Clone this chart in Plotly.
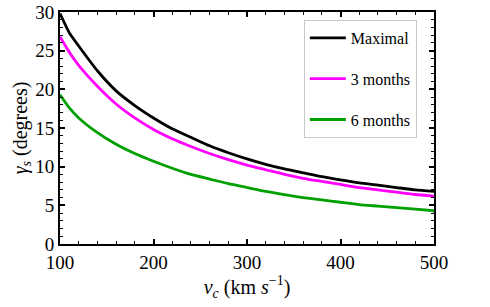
import plotly.graph_objects as go

v = [100, 110, 120, 140, 160, 180, 200, 220, 240, 260, 280, 300, 320, 340, 360, 380, 400, 420, 440, 460, 480, 500]
maximal = [29.8, 27.3, 25.6, 22.4, 19.8, 17.9, 16.3, 14.9, 13.8, 12.7, 11.8, 11.0, 10.3, 9.7, 9.2, 8.7, 8.3, 7.9, 7.6, 7.3, 7.0, 6.8]
three_months = [26.8, 24.8, 23.1, 20.4, 18.1, 16.3, 14.8, 13.6, 12.6, 11.7, 10.9, 10.2, 9.6, 9.0, 8.5, 8.1, 7.7, 7.3, 7.0, 6.7, 6.4, 6.2]
six_months = [19.3, 17.6, 16.3, 14.4, 12.9, 11.7, 10.7, 9.8, 9.0, 8.4, 7.8, 7.3, 6.8, 6.4, 6.0, 5.7, 5.4, 5.1, 4.9, 4.7, 4.5, 4.3]
names = ["Maximal", "3 months", "6 months"]
colors = ["#000000", "#ff00ff", "#00a000"]

fig = go.Figure()
for i, (name, ys, c) in enumerate(zip(names, [maximal, three_months, six_months], colors)):
    fig.add_trace(go.Scatter(x=v, y=ys, mode="lines", name=name, legendgroup=str(i),
                             line=dict(color=c, width=2.8, shape="spline", smoothing=0.5)))

font = "Liberation Serif"
axis_common = dict(showline=True, linecolor="black", linewidth=2, mirror="allticks",
                   ticks="inside", ticklen=5, tickwidth=1.5, tickcolor="black",
                   showgrid=False, zeroline=False, automargin=False, ticklabeloverflow="allow",
                   tickfont=dict(family=font, size=19, color="black"))
fig.update_xaxes(range=[100, 500], tickvals=[100, 200, 300, 400, 500],
                 minor=dict(dtick=20, tick0=100, ticks="inside", ticklen=3, tickwidth=1.2, tickcolor="black", showgrid=False),
                 title=dict(text="<i>v<sub>c</sub></i> (km <i>s</i><sup>−1</sup>)", font=dict(family=font, size=20, color="black"), standoff=8),
                 **axis_common)
fig.update_yaxes(range=[0, 30], tickvals=[0, 5, 10, 15, 20, 25, 30],
                 minor=dict(dtick=1, tick0=0, ticks="inside", ticklen=3, tickwidth=1.2, tickcolor="black", showgrid=False),
                 title=dict(text="<i>γ<sub>s</sub></i> (degrees)", font=dict(family=font, size=20, color="black"), standoff=2),
                 **axis_common)
fig.update_layout(
    width=490, height=307,
    margin=dict(l=60, r=56, t=12, b=63),
    plot_bgcolor="white", paper_bgcolor="white",
    legend=dict(x=0.652, y=0.9655, xanchor="left", yanchor="top",
                bgcolor="white", bordercolor="#c8c8c8", borderwidth=1,
                font=dict(family=font, size=16, color="black"),
                tracegroupgap=17, traceorder="grouped", itemwidth=36),
)
fig.write_html("out.html", config={"displayModeBar": False},
               post_script="document.body.style.margin='0';document.body.style.overflow='hidden';")
